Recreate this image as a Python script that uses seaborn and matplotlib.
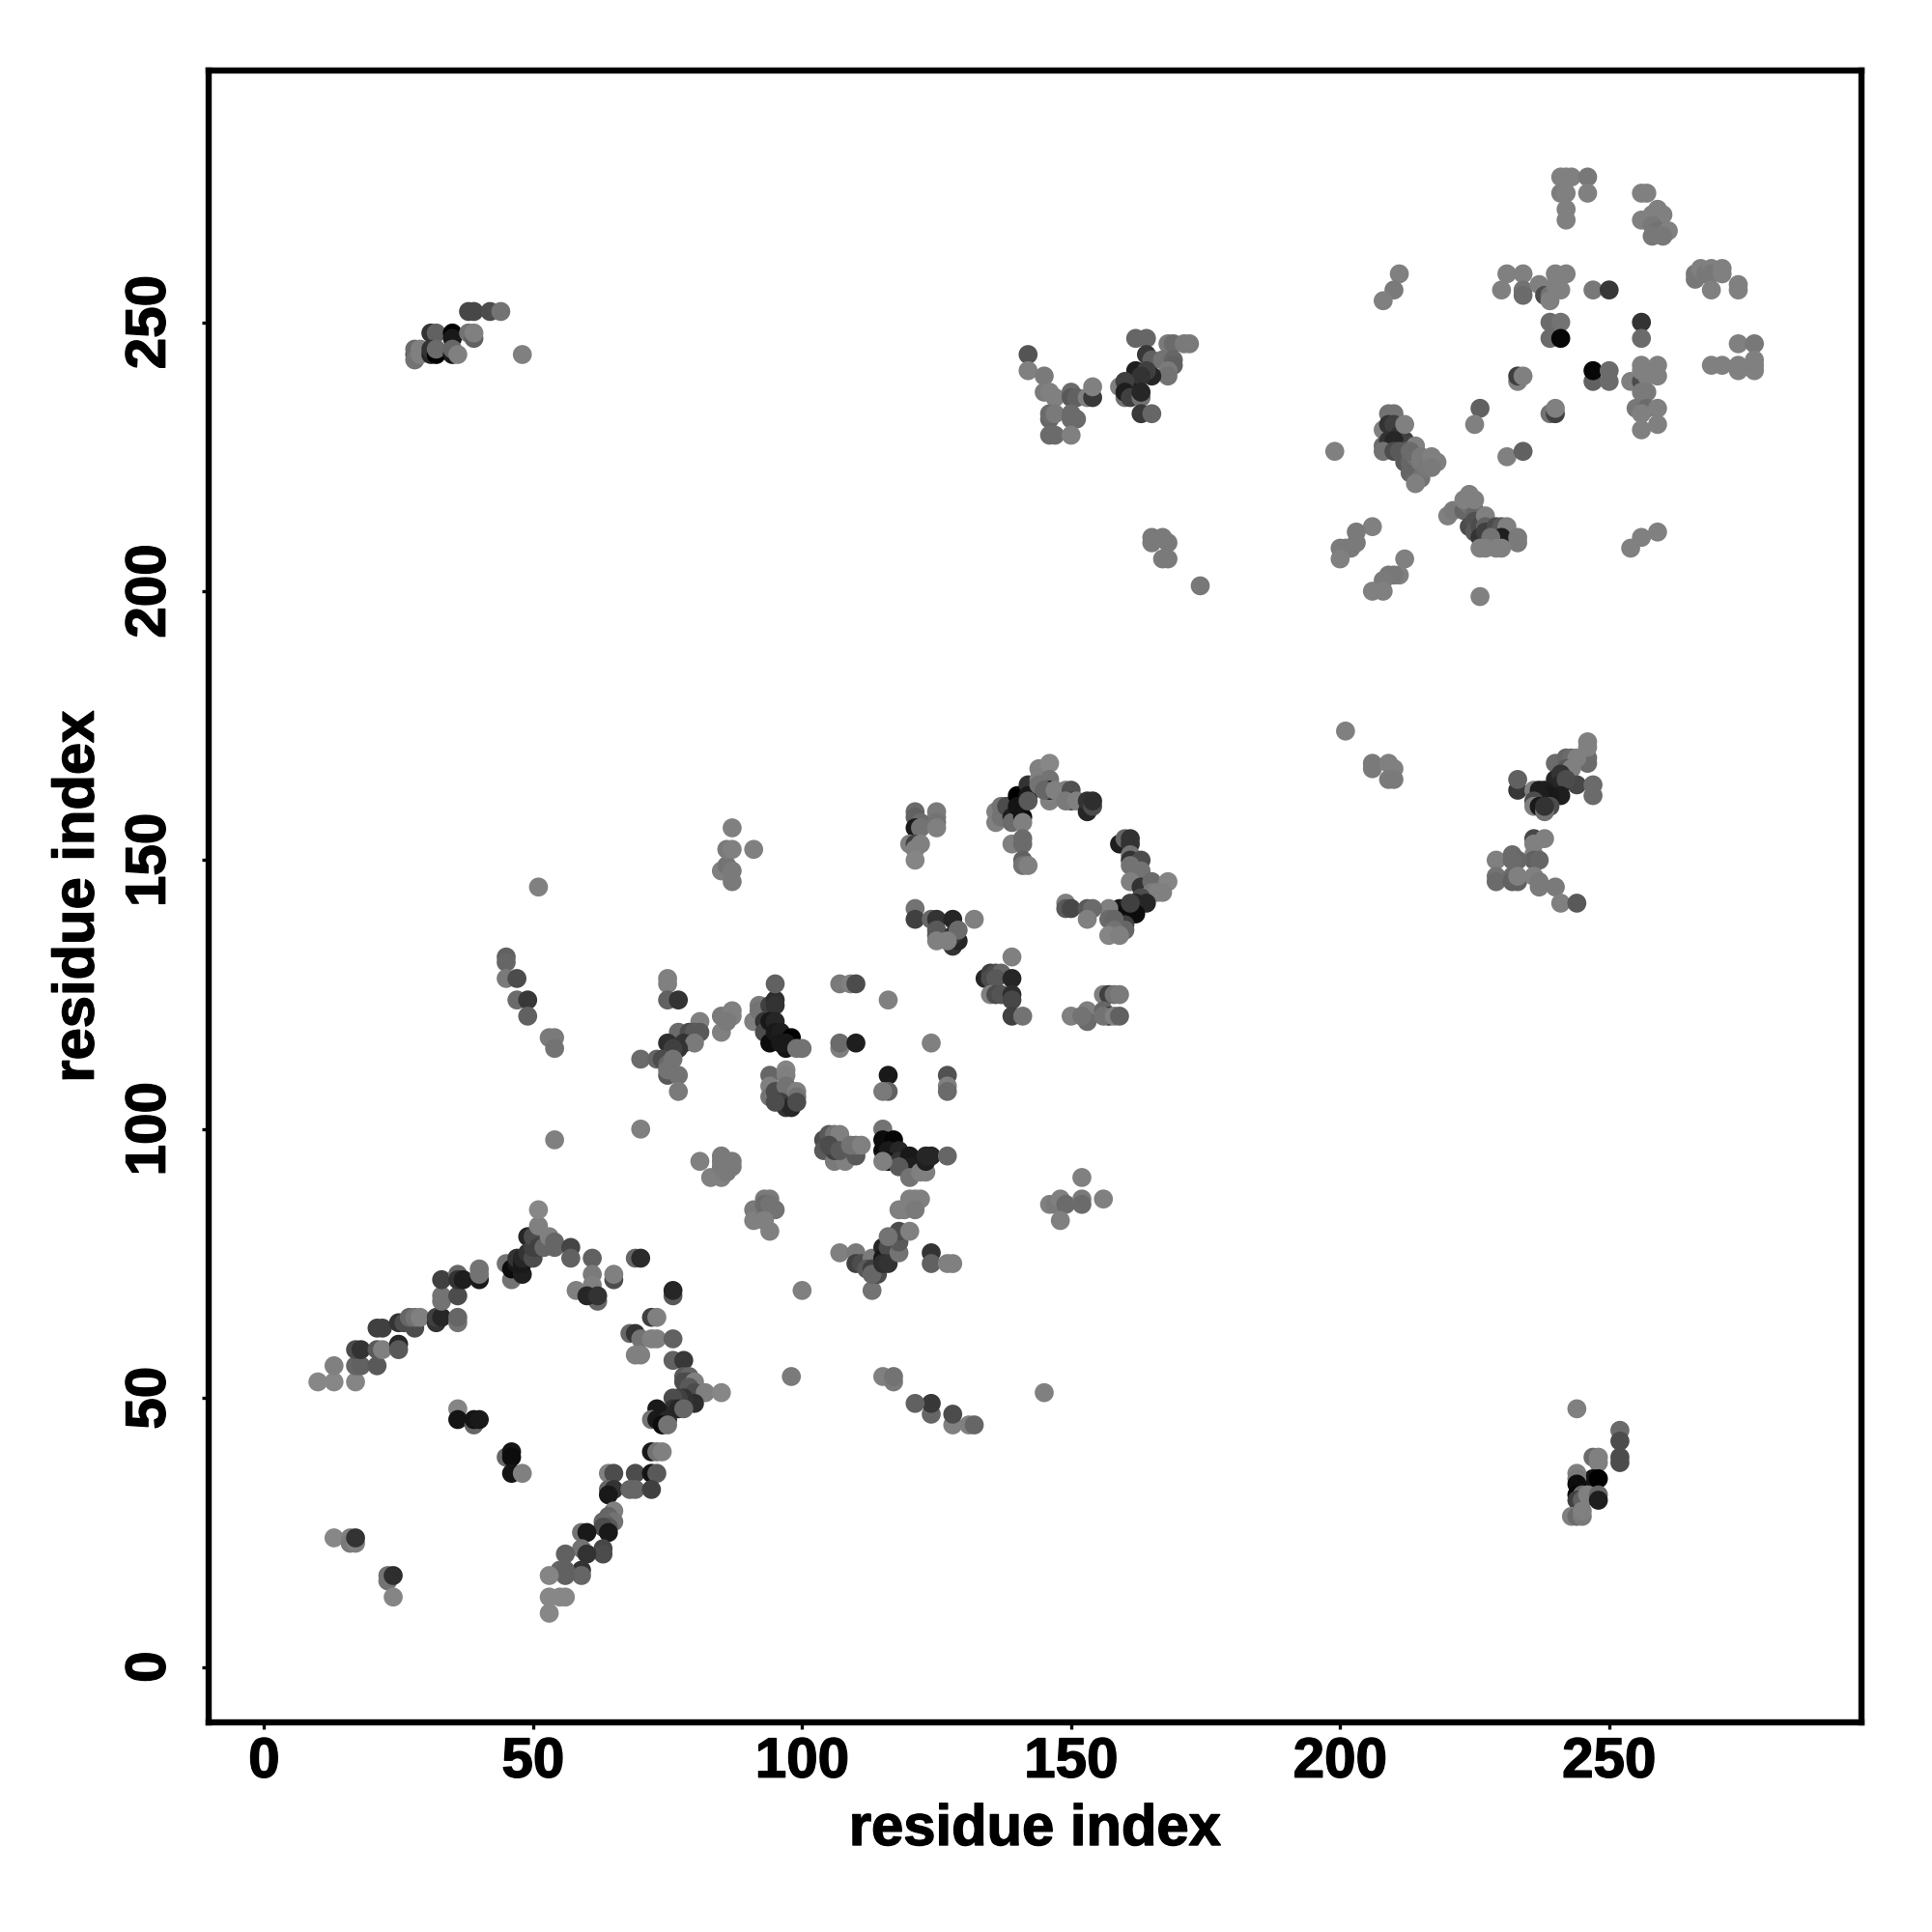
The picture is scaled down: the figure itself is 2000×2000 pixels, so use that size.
"""
Contact map of residue pairs, grey level = contact strength.
"""
import matplotlib.pyplot as plt
import matplotlib.patheffects as pe
import pandas as pd
import seaborn as sns

# values as (residue i, residue j, grey level), one list per region
near_n_term = [
    (10,53,.53),(13,53,.53),(13,56,.5),(17,53,.52),(17,56,.4),(18,56,.38),(21,56,.35),(17,59,.3),(18,59,.2),
    (21,59,.35),(22,59,.5),(25,60,.15),(25,59,.35),(21,63,.25),(22,63,.25),(28,63,.3),(25,64,.2),(26,64,.3),
    (27,65,.4),(28,65,.45),(29,65,.5),(32,64,.2),(32,65,.25),(33,65,.15),(36,64,.45),(36,65,.4),
    (33,68,.45),(33,69,.45),(36,69,.3),(33,72,.25),(36,73,.4),(36,72,.2),(37,72,.12),(40,72,.1),(40,73,.45),(40,74,.45),
    (45,75,.45),(46,72,.45),(46,74,.05),(48,73,.12),(47,75,.1),(47,76,.2),(48,75,.1),(48,76,.15),(49,77,.2),(50,76,.3),
    (49,80,.15),(50,78,.25),(50,80,.3),(51,82,.5),(51,78,.25),(51,85,.53),(52,78,.4),(53,80,.5),(54,79,.4),(54,78,.4),
    (57,78,.27),(57,76,.38),(61,76,.38),(61,73,.48),(61,71,.5),(58,70,.5),(65,72,.3),(65,73,.5),(62,68,.4),(60,69,.15),(62,69,.2),
    (69,76,.4),(70,76,.17),(76,69,.35),(76,70,.15),(100,70,.5),(72,65,.25),(73,65,.5),
    (68,62,.4),(69,62,.2),(70,61,.45),(72,61,.5),(73,61,.5),(76,61,.38),(69,58,.5),(70,58,.5),(76,57,.38),(78,57,.22),
]
near_diag_50 = [
    (78,54,.35),(79,54,.4),(78,53,.3),(79,53,.3),(80,53,.5),(79,52,.35),(80,51,.3),(82,51,.5),(85,51,.53),(80,49,.18),
    (78,50,.2),(77,50,.25),(76,50,.3),(76,48,.2),(77,48,.15),(78,48,.4),(74,47,.15),(73,48,.1),(72,46,.45),(73,46,.1),
    (75,46,.15),(74,45,.05),(75,45,.45),(98,54,.48),
    (36,48,.52),(36,46,.08),(39,45,.4),(39,46,.08),(40,46,.1),(45,39,.4),(46,40,.08),(46,39,.05),(46,36,.08),(48,36,.5),
    (72,40,.1),(73,40,.45),(74,40,.5),(64,36,.5),(65,36,.3),(69,36,.3),(72,36,.08),(73,36,.35),
    (64,33,.4),(65,33,.2),(64,32,.1),(68,33,.4),(69,33,.4),(72,33,.25),(65,29,.5),(64,28,.4),(65,27,.45),(63,27,.4),
    (64,26,.35),(63,26,.3),(64,25,.1),(59,25,.45),(60,25,.1),(63,22,.28),(63,21,.3),(59,22,.45),(60,21,.2),(56,21,.38),
    (59,18,.2),(59,17,.4),(55,18,.4),(56,18,.38),(56,17,.38),(53,17,.52),(53,13,.53),(55,13,.53),(56,13,.53),(53,10,.53),
    (13,24,.53),(16,24,.5),(16,23,.48),(17,23,.5),(17,24,.2),(23,17,.45),(23,16,.45),(24,17,.18),(24,13,.52),
]
middle_low = [
    (128,45,.5),(131,45,.5),(132,45,.4),(128,47,.3),(124,47,.4),(124,49,.22),(121,49,.38),(115,54,.5),(117,53,.48),(117,54,.45),
    (145,51,.5),(113,70,.45),(107,77,.5),(110,77,.48),(110,75,.25),(111,75,.3),(113,76,.48),(112,74,.35),(113,74,.25),(114,73,.3),(113,73,.4),
    (115,78,.15),(115,76,.1),(116,78,.3),(115,75,.18),(116,75,.2),(118,77,.45),(118,79,.35),(118,81,.3),(116,80,.45),(120,81,.5),
    (124,77,.2),(124,75,.38),(127,75,.5),(128,75,.5),(118,85,.5),(119,85,.5),(120,87,.5),(121,87,.5),(122,87,.5),(121,85,.48),
    (152,91,.5),(146,86,.5),(147,86,.48),(148,87,.5),(149,86,.42),(148,83,.5),(152,87,.48),(152,86,.42),(156,87,.5),
    (81,94,.5),(83,91,.5),(85,91,.5),(85,95,.48),(85,94,.48),(86,94,.48),(87,94,.48),(87,93,.48),(86,92,.48),(85,93,.48),
    (91,85,.48),(91,83,.5),(93,87,.48),(94,87,.48),(93,85,.48),(94,81,.5),(95,85,.45),(93,86,.42),(94,86,.45),(93,83,.5),
]
middle_mid = [
    (104,98,.3),(105,99,.35),(104,96,.35),(106,99,.45),(107,99,.5),(106,94,.48),(108,94,.5),(106,96,.25),(105,97,.3),(107,96,.35),
    (110,95,.35),(110,97,.45),(109,97,.45),(111,97,.5),
    (115,100,.45),(115,98,.05),(117,98,.02),(115,96,.05),(116,96,.1),(118,96,.15),(116,94,.08),(118,94,.2),(120,95,.1),(120,93,.12),
    (118,93,.35),(115,94,.5),(120,91,.45),(122,92,.5),(123,92,.5),(123,94,.12),(124,95,.15),(123,95,.15),(127,95,.4),
    (94,110,.4),(97,111,.52),(97,110,.5),(94,108,.5),(94,106,.45),(95,107,.3),(97,108,.45),(99,107,.5),(99,106,.45),(96,105,.25),
    (97,104,.2),(98,104,.15),(99,105,.3),(95,105,.3),
    (92,123,.48),(91,120,.5),(92,122,.45),(93,120,.2),(94,123,.25),(95,124,.18),(95,123,.2),(95,127,.38),(93,118,.3),(94,120,.1),(95,120,.15),
    (94,116,.05),(95,118,.1),(96,118,.12),(97,115,.08),(98,117,.0),(96,116,.1),(97,116,.1),(99,115,.45),(100,115,.45),
    (107,127,.48),(109,127,.5),(110,127,.3),(116,124,.5),(107,115,.5),(107,116,.42),(110,116,.12),(124,116,.5),(116,110,.1),(116,107,.38),(115,107,.48),
    (127,110,.32),(127,108,.5),(127,107,.42),(70,100,.5),(54,98,.5),
    (75,128,.5),(75,127,.5),(75,124,.38),(77,124,.2),(81,120,.5),(85,118,.5),(85,121,.48),(87,122,.5),(87,121,.5),(86,120,.48),
    (77,118,.42),(79,118,.3),(80,118,.35),(81,118,.35),(78,116,.2),(80,116,.48),(77,115,.2),(75,116,.18),(76,115,.25),
    (70,113,.42),(73,113,.4),(74,113,.3),(75,112,.4),(76,113,.45),(75,110,.35),(77,110,.45),(77,107,.48),(75,111,.45),
]
far_left_mid = [
    (45,132,.38),(45,131,.4),(45,128,.48),(47,128,.3),(47,124,.42),(49,124,.22),(49,121,.38),(53,117,.48),(54,117,.48),(54,115,.45),
    (51,145,.5),(85,148,.5),(87,146,.48),(86,149,.45),(87,148,.48),(86,152,.48),(87,152,.5),(87,156,.5),(91,152,.5),
]
ring_150 = [
    (121,159,.42),(125,159,.48),(121,158,.38),(125,158,.48),(122,157,.42),(125,157,.45),(121,156,.1),(122,156,.45),(125,156,.5),
    (120,153,.5),(121,153,.25),(122,153,.5),(121,152,.5),(121,150,.52),
    (136,159,.5),(136,157,.5),(137,160,.45),(137,158,.45),(139,159,.05),(138,160,.3),(139,158,.12),(139,157,.42),(140,162,.0),
    (141,158,.05),(140,160,.08),(142,164,.2),(142,162,.1),(142,161,.35),(141,157,.5),(139,153,.5),(141,154,.42),(141,153,.42),
    (141,150,.38),(141,149,.45),(142,149,.5),(144,167,.5),(146,168,.53),(144,165,.5),(146,165,.45),(144,164,.45),(146,161,.5),
    (146,163,.1),(145,163,.4),(147,163,.5),(149,163,.5),(150,163,.32),(150,161,.25),(149,161,.48),(151,161,.5),(153,159,.15),
    (153,161,.2),(154,160,.3),(154,161,.18),
    (159,153,.12),(160,154,.4),(161,154,.2),(161,153,.2),(161,151,.45),(161,150,.2),(163,150,.3),(161,149,.45),(163,148,.45),
    (161,146,.5),(163,145,.2),(165,146,.42),(168,146,.52),(165,144,.48),(166,144,.5),(167,144,.5),(163,143,.3),(164,142,.15),
    (162,142,.15),(162,140,.05),(159,141,.1),(160,140,.05),(161,142,.25),(159,139,.05),(160,138,.25),(160,137,.4),(157,141,.5),
    (157,139,.42),(158,139,.4),(158,137,.45),(157,136,.52),(159,136,.5),
    (149,142,.5),(149,141,.35),(150,141,.28),(153,141,.35),(154,141,.42),(153,139,.5),
    (121,141,.45),(121,139,.25),(124,139,.4),(125,139,.2),(128,139,.15),(132,139,.5),(125,137,.35),(125,136,.35),(125,135,.5),
    (128,134,.2),(129,135,.15),(128,136,.2),(129,137,.42),(127,135,.5),
    (139,132,.5),(134,128,.15),(135,129,.25),(136,129,.3),(137,129,.4),(135,128,.3),(136,128,.35),(139,128,.15),(135,125,.5),
    (136,125,.3),(137,125,.33),(139,125,.18),(139,124,.28),(139,121,.25),(141,121,.45),
    (150,121,.5),(153,122,.5),(153,120,.42),(152,121,.45),(156,125,.5),(157,125,.25),(158,125,.45),(159,125,.48),(156,122,.4),
    (157,121,.2),(156,121,.45),(158,121,.5),(159,121,.38),
]
top_right = [
    (241,277,.5),(242,277,.5),(243,277,.5),(246,277,.47),(241,274,.49),(242,274,.5),(246,274,.5),(242,271,.5),(242,269,.5),
    (256,274,.5),(257,274,.5),(256,269,.5),(259,271,.5),(258,270,.5),(260,270,.5),(259,269,.5),(258,268,.47),(259,267,.45),(261,267,.5),(258,266,.47),(260,266,.47),
    (266,259,.47),(266,258,.47),(267,260,.5),(268,259,.47),(269,260,.5),(269,259,.47),(271,260,.5),(271,259,.5),(269,256,.5),(274,257,.5),(274,256,.5),
    (274,246,.5),(277,246,.47),(269,242,.5),(271,242,.5),(274,242,.5),(274,241,.5),(277,243,.5),(277,242,.5),(277,241,.5),
    (211,259,.5),(210,256,.48),(208,254,.5),
    (231,259,.5),(234,259,.5),(230,256,.5),(234,256,.45),(234,255,.42),(237,257,.5),(238,255,.3),(239,255,.45),(239,254,.5),(240,257,.5),(240,259,.5),(242,259,.5),(241,256,.5),
    (239,250,.42),(241,250,.45),(239,247,.42),(241,247,.03),(247,256,.47),(250,256,.22),(256,250,.2),(256,247,.42),
    (247,239,.38),(250,239,.42),(247,241,.03),(250,241,.42),(233,239,.5),(233,240,.25),(234,240,.5),
    (226,234,.38),(225,231,.5),(239,233,.45),(240,233,.25),(240,234,.5),(231,225,.5),(234,226,.38),
    (254,239,.5),(256,239,.3),(256,241,.5),(256,242,.5),(259,242,.5),(259,240,.5),(257,240,.5),(257,237,.48),(256,237,.48),
    (255,234,.47),(257,234,.42),(259,234,.5),(256,233,.5),(256,230,.5),(259,231,.5),
    (254,208,.5),(256,210,.5),(259,211,.5),
]
helix_200 = [
    (199,226,.5),(206,212,.5),(203,211,.48),(203,209,.48),(200,208,.48),(201,208,.48),(202,208,.48),(200,206,.5),
    (212,206,.5),(211,203,.5),(209,203,.47),(210,203,.47),(208,202,.48),(206,200,.5),(208,200,.5),(226,199,.5),
    (209,233,.45),(210,233,.45),(208,230,.5),(209,231,.2),(210,231,.25),(211,229,.2),(212,228,.25),(212,231,.5),(208,227,.42),(209,228,.2),(210,228,.15),
    (208,226,.45),(210,226,.3),(211,226,.35),(212,226,.35),(212,224,.35),(213,224,.4),(213,222,.4),(214,227,.5),(214,225,.45),(213,226,.42),(215,225,.48),(215,224,.48),(215,221,.45),
    (214,220,.5),(216,224,.48),(216,223,.47),(217,225,.5),(218,224,.5),(217,223,.48),
    (220,214,.5),(221,215,.48),(223,215,.4),(224,216,.45),(225,215,.42),(225,214,.4),(224,212,.3),(225,213,.32),(225,211,.35),(226,212,.3),(224,218,.5),(223,217,.5),(225,217,.5),(227,214,.5),
    (227,212,.38),(226,210,.2),(227,211,.25),(228,210,.3),(229,212,.3),(230,212,.35),(231,212,.5),(230,210,.12),(228,210,.45),(233,210,.48),(233,209,.48),
    (226,208,.5),(227,208,.5),(229,208,.5),(230,208,.5),
]
top_left = [
    (38,252,.28),(39,252,.28),(42,252,.3),(44,252,.45),(31,248,.2),(32,248,.38),(35,248,.0),(35,247,.1),(38,248,.45),(39,247,.38),(39,248,.5),
    (28,244,.3),(28,245,.42),(28,243,.45),(29,245,.5),(29,244,.5),(31,244,.15),(31,245,.2),(32,244,.0),(32,245,.42),(35,244,.1),(35,245,.4),(36,244,.5),(48,244,.5),
]
top_mid = [
    (142,244,.33),(142,241,.5),(145,240,.48),(145,237,.48),(146,237,.5),(147,236,.5),(150,237,.42),(150,236,.35),(151,236,.38),(153,236,.5),(154,236,.22),(154,238,.5),
    (146,232,.4),(146,233,.42),(147,233,.48),(150,233,.42),(150,232,.42),(151,232,.42),(146,229,.42),(147,229,.42),(150,229,.5),
    (162,247,.4),(164,247,.4),(168,246,.48),(169,246,.42),(171,246,.48),(172,246,.48),(164,244,.22),(165,243,.38),(167,243,.45),
    (169,243,.4),(169,242,.38),(168,241,.48),(168,240,.45),(162,241,.12),(165,240,.15),(164,241,.25),(162,239,.1),(163,240,.2),
    (159,238,.5),(160,239,.25),(160,236,.45),(160,237,.12),(161,236,.25),(163,236,.45),(163,237,.15),(163,233,.22),(165,233,.4),
    (165,209,.48),(165,210,.48),(167,210,.48),(168,209,.48),(167,206,.48),(168,206,.48),(174,201,.47),
]
lower_right = [
    (201,174,.5),(206,168,.48),(206,167,.48),(209,168,.5),(210,167,.5),(209,165,.48),(210,165,.48),
    (233,163,.22),(233,165,.38),(246,168,.42),(246,169,.42),(246,171,.5),(246,172,.5),(240,168,.42),(242,169,.4),(243,169,.42),(244,169,.5),
    (242,167,.35),(243,167,.5),(240,165,.15),(241,166,.2),(244,164,.28),(241,164,.15),(242,165,.3),(247,164,.42),(247,162,.42),
    (236,163,.5),(237,163,.12),(238,163,.12),(241,162,.12),(239,162,.1),(237,162,.12),(236,161,.3),(236,160,.5),(237,160,.1),(239,160,.3),(238,159,.45),(238,160,.2),
    (236,154,.28),(238,154,.5),(236,153,.5),(236,151,.5),(236,150,.38),(237,150,.4),(229,150,.5),(232,151,.42),(233,150,.4),(232,150,.42),
    (229,147,.45),(229,146,.42),(232,147,.42),(232,146,.38),(233,146,.38),(233,147,.5),(236,147,.5),(237,146,.48),(237,145,.48),(240,145,.48),(241,142,.5),(244,142,.35),
    (244,48,.5),(252,44,.42),(252,42,.3),(252,39,.3),(252,38,.3),(247,39,.42),(248,39,.5),(248,38,.5),
    (247,35,.08),(248,35,.0),(244,36,.5),(244,35,.48),(244,34,.05),(244,32,.02),(245,32,.42),(244,31,.25),(245,31,.38),(246,32,.5),(248,32,.4),(248,31,.12),
    (243,28,.5),(244,28,.42),(245,28,.48),(245,29,.5),
]

tick_values = [0, 50, 100, 150, 200, 250]

contacts = pd.DataFrame(
    near_n_term + near_diag_50 + middle_low + middle_mid + far_left_mid + ring_150
    + top_right + helix_200 + top_left + top_mid + lower_right,
    columns=['i', 'j', 'grey'],
)

sns.set_theme(style='white')
plt.rcParams['font.family'] = ['Liberation Sans', 'DejaVu Sans']

fig = plt.figure(figsize=(10, 10), dpi=200)
ax = fig.add_axes([0.108, 0.1085, 0.8555, 0.855])

sns.scatterplot(data=contacts, x='i', y='j', hue='grey', palette='gray', hue_norm=(0, 1),
                s=50, linewidth=0, alpha=1, legend=False, ax=ax)

ax.set_xlim(-10.3, 296.9)
ax.set_ylim(-10.3, 296.8)
ax.set_xticks(tick_values)
ax.set_yticks(tick_values)
ax.tick_params(axis='both', length=2.6, width=1.2, color='black', labelsize=21, labelcolor='black', left=True, bottom=True)
ax.tick_params(axis='x', pad=2.7)
ax.tick_params(axis='y', pad=9.4)

# reference glyphs are a bit heavier than Liberation bold
heavy = [pe.withStroke(linewidth=0.5, foreground='black')]
for label in ax.get_xticklabels():
    label.set_fontweight('bold')
    label.set_path_effects(heavy)
for label in ax.get_yticklabels():
    label.set_fontweight('bold')
    label.set_rotation(90)
    label.set_va('center')
    label.set_path_effects(heavy)

ax.set_xlabel('residue index', fontsize=21.5, fontweight='bold', color='black', labelpad=5.5, path_effects=heavy)
ax.set_ylabel('residue index', fontsize=21.5, fontweight='bold', color='black', labelpad=7.2, path_effects=heavy)

for spine in ax.spines.values():
    spine.set_visible(True)
    spine.set_color('black')
    spine.set_linewidth(2.3)

fig.savefig('out.png', dpi=200)
